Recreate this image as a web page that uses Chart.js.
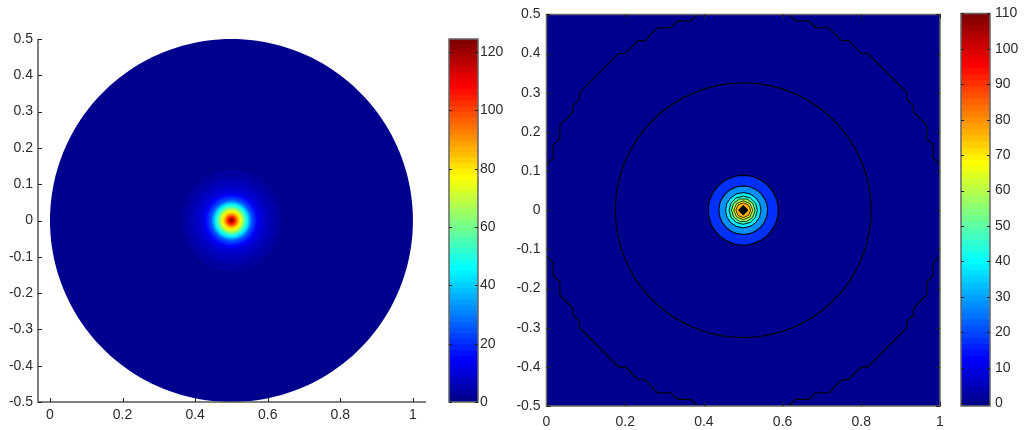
<!DOCTYPE html>
<html>
<head>
<meta charset="utf-8">
<title>Radial field, surface and contour</title>
<script src="https://cdn.jsdelivr.net/npm/chart.js@4/dist/chart.umd.min.js"></script>
<style>
    html, body { margin: 0; padding: 0; background: #fff; }
    canvas { position: absolute; left: 0; top: 0; }
</style>
</head>
<body>
<canvas id="surfacePlot" width="1024" height="430"></canvas>
<canvas id="surfaceBar" width="1024" height="430"></canvas>
<canvas id="contourPlot" width="1024" height="430"></canvas>
<canvas id="contourBar" width="1024" height="430"></canvas>
<script>
// Tick labels
const surfaceXTicks = [0, 0.2, 0.4, 0.6, 0.8, 1];
const contourXTicks = [0, 0.2, 0.4, 0.6, 0.8, 1];
const yTicks = [-0.5, -0.4, -0.3, -0.2, -0.1, 0, 0.1, 0.2, 0.3, 0.4, 0.5];
const surfaceBarTicks = [0, 20, 40, 60, 80, 100, 120];
const contourBarTicks = [0, 10, 20, 30, 40, 50, 60, 70, 80, 90, 100, 110];

// Left plot: field value read at each distance from the disc centre
const surfaceRadii = [0.003, 0.0055, 0.009, 0.013, 0.0166, 0.02, 0.024, 0.0276, 0.031, 0.035,
    0.0387, 0.0424, 0.046, 0.05, 0.053, 0.057, 0.0626, 0.068, 0.0737, 0.083,
    0.092, 0.106, 0.12, 0.138, 0.16, 0.193, 0.5];
const surfaceValues = [124, 118, 110, 102, 94, 87, 81, 75, 69, 63,
    56, 49, 43, 37, 32, 27, 22, 18, 15, 11.5,
    9, 6.5, 4.5, 3, 1.8, 1, 0.3];

// Right plot: filled contour bands (radius, band value, polygon sides, line width)
const bandRadii = [0.012, 0.019, 0.024, 0.03, 0.036, 0.045, 0.062, 0.089, 0.325];
const bandValues = [110, 76, 68, 58, 46, 38, 28, 18, 0];
const bandSides = [4, 8, 8, 10, 12, 16, 24, 48, 180];
const bandLineWidths = [1, 0.8, 0.8, 0.8, 0.9, 1, 1.1, 1.2, 1.2];

// Right plot: jagged outer contour, upper right quarter
const outerContourX = [0.617, 0.634, 0.667, 0.684, 0.718, 0.75, 0.767, 0.8, 0.817, 0.916,
    0.916, 0.933, 0.933, 0.966, 0.966, 0.983, 0.983, 1];
const outerContourY = [0.498, 0.483, 0.483, 0.466, 0.466, 0.433, 0.433, 0.4, 0.4, 0.3,
    0.283, 0.267, 0.25, 0.217, 0.183, 0.167, 0.134, 0.117];

const surfaceMax = 124.5;
const contourMax = 110;
const contourMin = -0.8;

const fontFamily = '"Liberation Sans", Arial, sans-serif';
const labelColor = '#2b2b2b';

// A solid dash turns off the line element's per-column fast path, which dents the shapes
const solidDash = [1000, 0];

// MATLAB style jet colormap with 64 steps
function jet(value, min, max) {
    const step = Math.min(63, Math.max(0, Math.floor((value - min) / (max - min) * 64)));
    const t = (step + 1) / 64;
    const clamp = v => Math.round(Math.min(1, Math.max(0, v)) * 255);
    return `rgb(${clamp(1.5 - Math.abs(4 * t - 3))},${clamp(1.5 - Math.abs(4 * t - 2))},${clamp(1.5 - Math.abs(4 * t - 1))})`;
}

function ringPoints(radius, sides) {
    const points = [];
    for (let i = 0; i <= sides; i++) {
        const angle = i / sides * Math.PI * 2;
        points.push({ x: 0.5 + radius * Math.cos(angle), y: radius * Math.sin(angle) });
    }
    return points;
}

// Ticks point inwards and the frame is grey, so both are drawn here
const matlabAxes = {
    id: 'matlabAxes',
    afterDatasetsDraw(chart, args, opts) {
        const { ctx, chartArea: area, scales } = chart;
        ctx.save();
        ctx.strokeStyle = opts.frameColor;
        ctx.lineWidth = opts.frameWidth;
        ctx.beginPath();
        ctx.moveTo(area.left, area.top);
        ctx.lineTo(area.left, area.bottom);
        ctx.lineTo(area.right, area.bottom);
        if (opts.box) {
            ctx.lineTo(area.right, area.top);
            ctx.closePath();
        }
        ctx.stroke();

        ctx.strokeStyle = '#222';
        ctx.lineWidth = 1;
        ctx.beginPath();
        if (scales.x.options.display) {
            scales.x.ticks.forEach(tick => {
                const px = Math.round(scales.x.getPixelForValue(tick.value)) + 0.5;
                ctx.moveTo(px, area.bottom);
                ctx.lineTo(px, area.bottom - opts.tickLength);
                if (opts.box) {
                    ctx.moveTo(px, area.top);
                    ctx.lineTo(px, area.top + opts.tickLength);
                }
            });
        }
        scales.y.ticks.forEach(tick => {
            const py = Math.round(scales.y.getPixelForValue(tick.value)) + 0.5;
            ctx.moveTo(area.left, py);
            ctx.lineTo(area.left + opts.tickLength, py);
            if (opts.box) {
                ctx.moveTo(area.right, py);
                ctx.lineTo(area.right - opts.tickLength, py);
            }
        });
        ctx.stroke();
        ctx.restore();
    }
};

function axis(position, min, max, tickValues, gutter, padding) {
    return {
        type: 'linear',
        position: position,
        min: min,
        max: max,
        grid: { display: false, drawTicks: false },
        border: { display: false },
        afterBuildTicks(scale) {
            scale.ticks = tickValues.map(value => ({ value: value }));
        },
        afterFit(scale) {
            if (position === 'bottom') {
                scale.height = gutter;
            } else {
                scale.width = gutter;
            }
        },
        ticks: {
            autoSkip: false,
            maxRotation: 0,
            padding: padding,
            color: labelColor,
            font: { family: fontFamily, size: 14 },
            callback: value => String(value)
        }
    };
}

function commonOptions(padding, frame) {
    return {
        responsive: false,
        animation: false,
        layout: { padding: padding },
        plugins: {
            legend: { display: false },
            tooltip: { enabled: false },
            matlabAxes: frame
        },
        elements: { point: { radius: 0, hoverRadius: 0 } }
    };
}

function createSurfacePlot() {
    const datasets = surfaceRadii.map((radius, i) => ({
        data: ringPoints(radius, 180),
        showLine: true,
        fill: 'shape',
        borderWidth: 0,
        borderDash: solidDash,
        backgroundColor: jet(surfaceValues[i], 0, surfaceMax)
    }));

    const options = commonOptions({ left: 0, top: 39, right: 598, bottom: 0 },
        { box: false, frameColor: '#555', frameWidth: 1.5, tickLength: 4 });
    options.scales = {
        x: axis('bottom', -0.033, 1.036, surfaceXTicks, 28, 5),
        y: axis('left', -0.5, 0.5, yTicks, 38, 5)
    };
    new Chart(document.getElementById('surfacePlot'), { type: 'scatter', data: { datasets }, options, plugins: [matlabAxes] });
}

function createContourPlot() {
    const contourStyle = { showLine: true, fill: false, borderColor: '#000', borderWidth: 1.1, borderDash: solidDash };

    // Contour bands, smallest on top
    const datasets = bandRadii.map((radius, i) => ({
        ...contourStyle,
        data: ringPoints(radius, bandSides[i]),
        fill: 'shape',
        borderWidth: bandLineWidths[i],
        backgroundColor: i === 0 ? '#000' : jet(bandValues[i], contourMin, contourMax)
    }));

    // The outer contour is mirrored into the other three quarters
    [[1, 1], [1, -1], [-1, 1], [-1, -1]].forEach(([sx, sy]) => {
        datasets.push({
            ...contourStyle,
            data: outerContourX.map((x, i) => ({ x: 0.5 + sx * (x - 0.5), y: sy * outerContourY[i] }))
        });
    });

    // Background of the square domain
    datasets.push({
        showLine: true,
        fill: 'shape',
        borderWidth: 0,
        borderDash: solidDash,
        backgroundColor: jet(0, contourMin, contourMax),
        data: [{ x: 0, y: -0.5 }, { x: 1, y: -0.5 }, { x: 1, y: 0.5 }, { x: 0, y: 0.5 }, { x: 0, y: -0.5 }]
    });

    const options = commonOptions({ left: 0, top: 12.5, right: 84, bottom: 0 },
        { box: true, frameColor: '#666', frameWidth: 1.5, tickLength: 4 });
    options.scales = {
        x: axis('bottom', 0, 1, contourXTicks, 24, 8),
        y: axis('left', -0.5, 0.5, yTicks, 546.5, 6)
    };
    new Chart(document.getElementById('contourPlot'), { type: 'scatter', data: { datasets }, options, plugins: [matlabAxes] });
}

function createColorBar(canvasId, min, max, tickValues, left, right, top, bottom, labelGap) {
    const bandSize = (max - min) / 64;
    const datasets = [];
    for (let i = 0; i < 64; i++) {
        const low = min + i * bandSize;
        datasets.push({
            data: [[low, low + bandSize * 1.06]],
            backgroundColor: jet(low + bandSize / 2, min, max),
            borderWidth: 0,
            barPercentage: 1,
            categoryPercentage: 1,
            grouped: false
        });
    }

    const options = commonOptions({ left: left, top: top, right: 0, bottom: 430 - bottom },
        { box: true, frameColor: '#666', frameWidth: 1.5, tickLength: 3 });
    options.scales = {
        x: { display: false },
        y: axis('right', min, max, tickValues, 1024 - right, labelGap)
    };
    new Chart(document.getElementById(canvasId), { type: 'bar', data: { labels: [''], datasets }, options, plugins: [matlabAxes] });
}

createSurfacePlot();
createColorBar('surfaceBar', 0, surfaceMax, surfaceBarTicks, 449, 478, 39, 402, 2);
createContourPlot();
createColorBar('contourBar', contourMin, contourMax, contourBarTicks, 961, 990, 12.5, 406, 5);
</script>
</body>
</html>
